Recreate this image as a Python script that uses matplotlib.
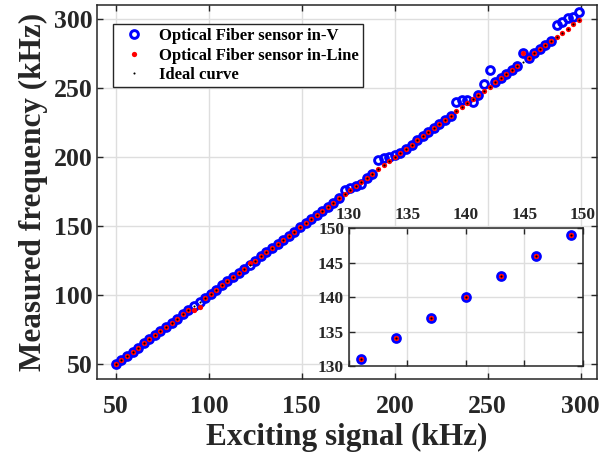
import matplotlib
matplotlib.use("Agg")
import matplotlib.pyplot as plt
import numpy as np

# ---- data ----
excitation = [50, 53, 56, 59, 62, 65, 68, 71, 74, 77, 80, 83, 86, 89, 92, 95, 98,
              101, 104, 107, 110, 113, 116, 119, 122, 125, 128, 131, 134, 137, 140,
              143, 146, 149, 152, 155, 158, 161, 164, 167, 170, 173, 176, 179, 182,
              185, 188, 191, 194, 197, 200, 203, 206, 209, 212, 215, 218, 221, 224,
              227, 230, 233, 236, 239, 242, 245, 248, 251, 254, 257, 260, 263, 266,
              269, 272, 275, 278, 281, 284, 287, 290, 293, 296, 299]

sensor_in_v = [50, 53, 56, 59, 62, 65, 68, 71, 74, 77, 80, 83, 86, 89, 92, 95, 98,
               101, 104, 107, 110, 113, 116, 119, 122, 125, 128, 131, 134, 137, 140,
               143, 146, 149, 152, 155, 158, 161, 164, 167, 170, 176, 177.5, 179, 180.5,
               185, 188, 198, 199, 200, 201.5, 203, 206, 209, 212, 215, 218, 221, 224,
               227, 230, 240, 241, 241, 239.5, 245, 253, 263, 254, 257, 260, 263, 266,
               275, 272, 275, 278, 281, 284, 295.5, 297.5, 300.5, 301.5, 305]

sensor_in_line = [50, 53, 56, 59, 62, 65, 68, 71, 74, 77, 80, 83, 86, 89, 89, 91.5, 98,
                  101, 104, 107, 110, 113, 116, 119, 123.5, 125, 128, 131, 134, 137, 140,
                  143, 146, 149, 152, 155, 158, 161, 164, 167, 170, 173, 176, 179, 182,
                  185, 188, 191, 194, 197, 200, 203, 206, 209, 212, 215, 218, 221, 224,
                  227, 230, 233, 236, 239, 242, 245, 248, 251, 254, 257, 260, 263, 266,
                  275, 272, 275, 278, 281, 284, 287, 290, 293, 296, 299]

ideal = [50, 53, 56, 59, 62, 65, 68, 71, 74, 77, 80, 83, 86, 89, 92, 95, 98,
         101, 104, 107, 110, 113, 116, 119, 122, 125, 128, 131, 134, 137, 140,
         143, 146, 149, 152, 155, 158, 161, 164, 167, 170, 173, 176, 179, 182,
         185, 188, 191, 194, 197, 200, 203, 206, 209, 212, 215, 218, 221, 224,
         227, 230, 233, 236, 239, 242, 245, 248, 251, 254, 257, 260, 263, 266,
         269, 272, 275, 278, 281, 284, 287, 290, 293, 296, 299]

labels = ["Optical Fiber sensor in-V", "Optical Fiber sensor in-Line", "Ideal curve"]
main_ticks = [50, 100, 150, 200, 250, 300]
inset_ticks = [130, 135, 140, 145, 150]

# ---- style ----
plt.rcParams['font.family'] = ['Liberation Serif', 'DejaVu Serif']
plt.rcParams['font.weight'] = 'bold'
dark = '#262626'
gridc = '#dedede'

fig = plt.figure(figsize=(6.13, 4.57), dpi=100)
ax = fig.add_axes([0.1587, 0.170, 0.8147, 0.819])

def draw(a):
    a.plot(excitation, sensor_in_v, 'o', color='blue', mfc='none', ms=5.6, mew=2.1,
           zorder=3, label=labels[0])
    a.plot(excitation, sensor_in_line, 'o', color='red', ms=3.8, mew=0,
           zorder=4, label=labels[1])
    a.plot(excitation, ideal, 'o', color='black', ms=1.5, mew=0,
           zorder=5, label=labels[2])

def style(a, fs):
    a.grid(True, color=gridc, linewidth=1.0)
    a.set_axisbelow(True)
    for s in a.spines.values():
        s.set_color(dark)
        s.set_linewidth(1.1)
    a.tick_params(direction='in', length=4, width=1.0, colors=dark,
                  labelsize=fs, top=True, right=True)
    for t in a.get_xticklabels() + a.get_yticklabels():
        t.set_fontweight('bold')

draw(ax)
ax.set_xlim(40, 308.6)
ax.set_ylim(39, 310)
ax.set_xticks(main_ticks)
ax.set_yticks(main_ticks)
style(ax, 18.5)
ax.tick_params(axis='x', pad=11)
ax.set_xlabel("Exciting signal (kHz)", fontsize=22.5, fontweight='bold', color=dark, labelpad=4)
ax.set_ylabel("Measured frequency (kHz)", fontsize=22.5, fontweight='bold', color=dark, labelpad=4)

leg = ax.legend(loc='upper left', bbox_to_anchor=(0.031, 0.949), borderaxespad=0,
                fancybox=False, frameon=True, edgecolor=dark, framealpha=1,
                prop={'size': 12, 'weight': 'bold'}, handlelength=2.0,
                handletextpad=0.55, labelspacing=0.2, borderpad=0.25)
leg.get_frame().set_linewidth(1.0)

ins = fig.add_axes([0.5693, 0.1991, 0.3817, 0.302])
draw(ins)
ins.set_xlim(130, 150)
ins.set_ylim(130, 150)
ins.set_xticks(inset_ticks)
ins.set_yticks(inset_ticks)
style(ins, 12.5)
ins.xaxis.set_ticks_position('both')
ins.tick_params(axis='x', labeltop=True, labelbottom=False)

fig.savefig("out.png", dpi=100)
